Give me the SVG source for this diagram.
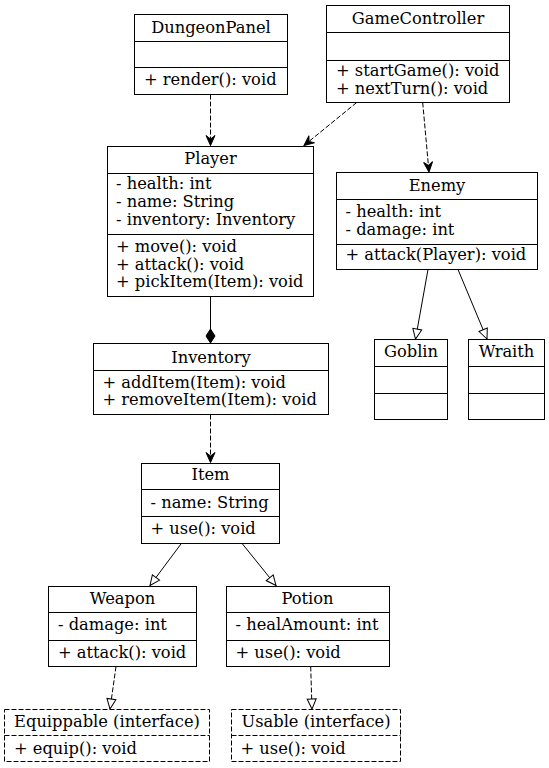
<svg xmlns="http://www.w3.org/2000/svg" width="549" height="768" viewBox="0 0 549 768">
<style>
.box{fill:#fff;stroke:#000;stroke-width:1}
.ibox{fill:#fff;stroke:#000;stroke-width:1;stroke-dasharray:5,2}
.sep{stroke:#000;stroke-width:1}
.isep{stroke:#000;stroke-width:1;stroke-dasharray:5,2}
text{font-family:"DejaVu Serif","Liberation Serif",serif;font-size:16.3px;fill:#000}
.t{text-anchor:middle}
.dep{fill:none;stroke:#000;stroke-width:1;stroke-dasharray:5,2}
.gen{fill:none;stroke:#000;stroke-width:1}
</style>
<defs>
<marker id="vee" markerUnits="userSpaceOnUse" markerWidth="12" markerHeight="12" refX="10" refY="0" orient="auto" overflow="visible">
<path d="M0,-4.5 L10,0 L0,4.5 L3.5,0 Z" fill="#000" stroke="#000" stroke-width="1"/>
</marker>
<marker id="tri" markerUnits="userSpaceOnUse" markerWidth="12" markerHeight="12" refX="10" refY="0" orient="auto" overflow="visible">
<path d="M0,-4.5 L10,0 L0,4.5 Z" fill="#fff" stroke="#000" stroke-width="1"/>
</marker>
<marker id="dia" markerUnits="userSpaceOnUse" markerWidth="16" markerHeight="12" refX="14" refY="0" orient="auto" overflow="visible">
<path d="M0,0 L7,-4.5 L14,0 L7,4.5 Z" fill="#000" stroke="#000" stroke-width="1"/>
</marker>
</defs>
<g id="connectors">
<path class="dep" d="M210.5,94.5 L210.5,145.5" marker-end="url(#vee)"/>
<path class="dep" d="M356.7,102.5 L304,145.5" marker-end="url(#vee)"/>
<path class="dep" d="M422.7,102.5 L429,172" marker-end="url(#vee)"/>
<path class="gen" d="M210.5,296.5 L210.5,343" marker-end="url(#dia)"/>
<path class="gen" d="M428,269.5 L415.5,339" marker-end="url(#tri)"/>
<path class="gen" d="M458,269.5 L487,339" marker-end="url(#tri)"/>
<path class="dep" d="M210.5,414.5 L210.5,462.5" marker-end="url(#vee)"/>
<path class="gen" d="M181.7,543 L150,585.5" marker-end="url(#tri)"/>
<path class="gen" d="M241.7,543 L276,585.5" marker-end="url(#tri)"/>
<path class="dep" d="M116,666.5 L110,709" marker-end="url(#tri)"/>
<path class="dep" d="M310.7,666.5 L312,709" marker-end="url(#tri)"/>
</g>
<g id="DungeonPanel">
<rect class="box" x="134.5" y="14.5" width="153" height="80"/>
<line class="sep" x1="134.5" y1="41.5" x2="287.5" y2="41.5"/>
<line class="sep" x1="134.5" y1="67.5" x2="287.5" y2="67.5"/>
<text class="t" x="211" y="32.5">DungeonPanel</text>
<text x="144" y="85">+ render(): void</text>
</g>
<g id="GameController">
<rect class="box" x="326.5" y="5.5" width="183" height="97"/>
<line class="sep" x1="326.5" y1="32.5" x2="509.5" y2="32.5"/>
<line class="sep" x1="326.5" y1="60.5" x2="509.5" y2="60.5"/>
<text class="t" x="418" y="23.5">GameController</text>
<text x="336" y="76">+ startGame(): void</text>
<text x="336" y="93.5">+ nextTurn(): void</text>
</g>
<g id="Player">
<rect class="box" x="107.5" y="146.5" width="206" height="150"/>
<line class="sep" x1="107.5" y1="173.5" x2="313.5" y2="173.5"/>
<line class="sep" x1="107.5" y1="234.5" x2="313.5" y2="234.5"/>
<text class="t" x="210.5" y="164">Player</text>
<text x="116" y="188.5">- health: int</text>
<text x="116" y="207">- name: String</text>
<text x="116" y="225">- inventory: Inventory</text>
<text x="116" y="251.5">+ move(): void</text>
<text x="116" y="269.5">+ attack(): void</text>
<text x="116" y="287">+ pickItem(Item): void</text>
</g>
<g id="Enemy">
<rect class="box" x="336.5" y="172.5" width="201" height="97"/>
<line class="sep" x1="336.5" y1="199.5" x2="537.5" y2="199.5"/>
<line class="sep" x1="336.5" y1="244.5" x2="537.5" y2="244.5"/>
<text class="t" x="437" y="190.5">Enemy</text>
<text x="345.5" y="217">- health: int</text>
<text x="345.5" y="234.5">- damage: int</text>
<text x="345.5" y="260">+ attack(Player): void</text>
</g>
<g id="Inventory">
<rect class="box" x="93.5" y="343.5" width="235" height="71"/>
<line class="sep" x1="93.5" y1="370.5" x2="328.5" y2="370.5"/>
<text class="t" x="211" y="362.5">Inventory</text>
<text x="102.5" y="387.5">+ addItem(Item): void</text>
<text x="102.5" y="405">+ removeItem(Item): void</text>
</g>
<g id="Goblin">
<rect class="box" x="374.5" y="339.5" width="73" height="80"/>
<line class="sep" x1="374.5" y1="366.5" x2="447.5" y2="366.5"/>
<line class="sep" x1="374.5" y1="393.5" x2="447.5" y2="393.5"/>
<text class="t" x="411" y="357">Goblin</text>
</g>
<g id="Wraith">
<rect class="box" x="468.5" y="339.5" width="76" height="80"/>
<line class="sep" x1="468.5" y1="366.5" x2="544.5" y2="366.5"/>
<line class="sep" x1="468.5" y1="393.5" x2="544.5" y2="393.5"/>
<text class="t" x="506.5" y="357">Wraith</text>
</g>
<g id="Item">
<rect class="box" x="141.5" y="463.5" width="138" height="80"/>
<line class="sep" x1="141.5" y1="489.5" x2="279.5" y2="489.5"/>
<line class="sep" x1="141.5" y1="516.5" x2="279.5" y2="516.5"/>
<text class="t" x="210.5" y="480">Item</text>
<text x="150.5" y="507.5">- name: String</text>
<text x="150.5" y="534">+ use(): void</text>
</g>
<g id="Weapon">
<rect class="box" x="48.5" y="586.5" width="148" height="80"/>
<line class="sep" x1="48.5" y1="612.5" x2="196.5" y2="612.5"/>
<line class="sep" x1="48.5" y1="640.5" x2="196.5" y2="640.5"/>
<text class="t" x="122.5" y="604">Weapon</text>
<text x="58" y="630">- damage: int</text>
<text x="58" y="657.5">+ attack(): void</text>
</g>
<g id="Potion">
<rect class="box" x="226.5" y="586.5" width="163" height="80"/>
<line class="sep" x1="226.5" y1="612.5" x2="389.5" y2="612.5"/>
<line class="sep" x1="226.5" y1="640.5" x2="389.5" y2="640.5"/>
<text class="t" x="307.5" y="604">Potion</text>
<text x="235.5" y="630">- healAmount: int</text>
<text x="235.5" y="657.5">+ use(): void</text>
</g>
<g id="Equippable">
<rect class="ibox" x="4.5" y="709.5" width="205" height="52"/>
<line class="isep" x1="4.5" y1="735.5" x2="209.5" y2="735.5"/>
<text class="t" x="107" y="727">Equippable (interface)</text>
<text x="14" y="753.5">+ equip(): void</text>
</g>
<g id="Usable">
<rect class="ibox" x="231.5" y="709.5" width="169" height="52"/>
<line class="isep" x1="231.5" y1="735.5" x2="400.5" y2="735.5"/>
<text class="t" x="316" y="727">Usable (interface)</text>
<text x="240.5" y="753.5">+ use(): void</text>
</g>
</svg>
